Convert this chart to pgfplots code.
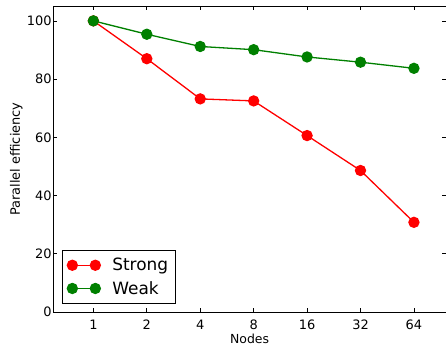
\documentclass[border=0pt]{standalone}
\usepackage{pgfplots}
\pgfplotsset{compat=1.18}
\usepackage{fontspec}
\setmainfont{DejaVu Sans}
\definecolor{mplred}{rgb}{1,0,0}
\definecolor{mplgreen}{rgb}{0,0.5,0}
\begin{document}
\begin{tikzpicture}
\useasboundingbox (-53.3bp,-33bp) rectangle (392.7bp,312bp);
\begin{axis}[
  scale only axis, width=392.7bp, height=305.7bp,
  xmin=-0.75, xmax=6.6, ymin=0, ymax=105,
  xtick={0,1,2,3,4,5,6}, xticklabels={1,2,4,8,16,32,64},
  ytick={0,20,40,60,80,100},
  minor tick num=0,
  tick align=inside, major tick length=4bp,
  tick style={black, line width=0.6bp},
  axis line style={line width=0.8bp},
  /pgf/number format/assume math mode=true,
  tick label style={font=\fontsize{13}{15}\selectfont},
  yticklabel style={inner xsep=1.5bp},
  xticklabel style={inner ysep=7.5bp},
  xlabel={Nodes},
  xlabel style={font=\fontsize{12.5}{15}\selectfont, at={(axis description cs:0.5,-0.1017)}, anchor=base, inner sep=0pt},
  ylabel={Parallel efficiency},
  ylabel style={font=\fontsize{13}{15}\selectfont, at={(axis description cs:-0.0848,0.5)}, anchor=base, inner sep=0pt},
  legend image code/.code={\draw[#1] plot coordinates {(0bp,0bp) (23bp,0bp)};},
  legend cell align=left,
  legend style={at={(axis description cs:0.022,0.026)}, anchor=south west,
    font=\fontsize{17}{20}\selectfont, draw=black, line width=0.8bp,
    inner xsep=5bp, inner ysep=7bp, row sep=7bp,
    nodes={inner xsep=2.5bp, inner ysep=1bp},
    /tikz/every odd column/.append style={column sep=9.5bp}},
]
\addplot[mplred, line width=1.3bp, mark=*, mark size=5bp, mark options={solid, fill=mplred, draw=mplred}]
  coordinates {(0,100) (1,87.0) (2,73.2) (3,72.5) (4,60.6) (5,48.6) (6,30.8)};
\addlegendentry{Strong}
\addplot[mplgreen, line width=1.3bp, mark=*, mark size=5bp, mark options={solid, fill=mplgreen, draw=mplgreen}]
  coordinates {(0,100) (1,95.4) (2,91.2) (3,90.1) (4,87.6) (5,85.8) (6,83.7)};
\addlegendentry{Weak}
\end{axis}
\end{tikzpicture}
\end{document}
